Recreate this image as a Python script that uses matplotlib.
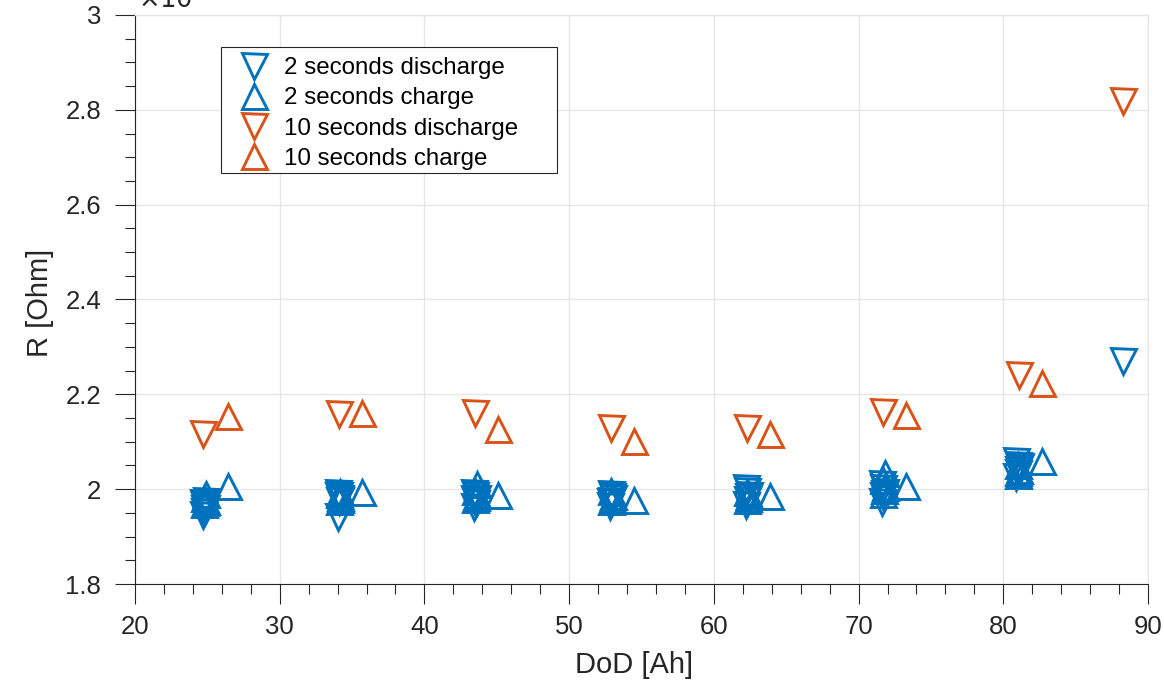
import matplotlib
matplotlib.use("Agg")
import matplotlib.pyplot as plt
from matplotlib.ticker import MultipleLocator, FuncFormatter
from matplotlib.patches import Rectangle

plt.rcParams['font.family'] = ['Liberation Sans', 'DejaVu Sans']

# ---- data (R in units of 1e-3 Ohm) ----
d2_x = [24.7, 24.8, 24.9, 24.8, 24.7, 24.9, 24.8, 24.75,
        34.0, 34.1, 34.2, 34.1, 34.0, 34.15, 34.05,
        43.4, 43.5, 43.6, 43.5, 43.4, 43.55, 43.45,
        52.8, 52.9, 53.0, 52.9, 52.85, 52.95,
        62.2, 62.3, 62.4, 62.3, 62.2, 62.35,
        71.6, 71.7, 71.8, 71.7, 71.6, 71.75,
        80.9, 81.0, 81.1, 81.0, 80.9, 81.05, 81.15,
        88.3]
d2_y = [1.945, 1.952, 1.960, 1.966, 1.970, 1.974, 1.958, 1.964,
        1.942, 1.975, 1.982, 1.988, 1.992, 1.978, 1.985,
        1.962, 1.975, 1.982, 1.988, 1.992, 1.970, 1.979,
        1.965, 1.975, 1.982, 1.990, 1.972, 1.986,
        1.966, 1.978, 1.988, 1.996, 2.002, 1.983,
        1.973, 1.985, 1.995, 2.003, 2.010, 1.990,
        2.026, 2.035, 2.045, 2.052, 2.059, 2.040, 2.048,
        2.270]

c2_x = [24.8, 24.9, 24.8, 24.9, 24.85, 26.4,
        34.1, 34.2, 34.1, 34.2, 34.15, 35.7,
        43.5, 43.6, 43.5, 43.6, 43.55, 45.1,
        52.9, 53.0, 52.9, 52.95, 54.5,
        62.3, 62.4, 62.3, 62.35, 63.9,
        71.7, 71.8, 71.7, 71.8, 71.75, 73.3,
        81.0, 81.1, 81.0, 81.05, 82.7]
c2_y = [1.968, 1.975, 1.982, 1.990, 1.972, 2.006,
        1.975, 1.983, 1.990, 1.994, 1.980, 1.994,
        1.980, 1.988, 1.996, 2.010, 1.984, 1.988,
        1.975, 1.985, 1.996, 1.980, 1.977,
        1.978, 1.988, 1.995, 1.982, 1.986,
        1.990, 2.005, 2.020, 2.034, 1.998, 2.007,
        2.030, 2.040, 2.050, 2.036, 2.059]

d10_x = [24.7, 34.1, 43.5, 52.9, 62.3, 71.7, 81.1, 88.3]
d10_y = [2.116, 2.158, 2.161, 2.129, 2.129, 2.163, 2.241, 2.819]

c10_x = [26.4, 35.7, 45.1, 54.5, 63.9, 73.3, 82.7]
c10_y = [2.154, 2.161, 2.127, 2.102, 2.116, 2.156, 2.224]

labels = ['2 seconds discharge', '2 seconds charge',
          '10 seconds discharge', '10 seconds charge']

BLUE = '#0072BD'
ORANGE = '#D95319'
AX = '#262626'
GRID = '#E6E6E6'

W, H = 1164, 683
fig = plt.figure(figsize=(W/100, H/100), dpi=100)
ax = fig.add_axes([135/W, 1 - 584/H, (1148-135)/W, (584-15)/H])

ms = 18
mew = 2.1
ax.plot(d2_x, d2_y, 'v', ms=ms, mfc='none', mec=BLUE, mew=mew, label=labels[0])
ax.plot(c2_x, c2_y, '^', ms=ms, mfc='none', mec=BLUE, mew=mew, label=labels[1])
ax.plot(d10_x, d10_y, 'v', ms=ms, mfc='none', mec=ORANGE, mew=mew, label=labels[2])
ax.plot(c10_x, c10_y, '^', ms=ms, mfc='none', mec=ORANGE, mew=mew, label=labels[3])

ax.set_xlim(20, 90)
ax.set_ylim(1.8, 3.0)
ax.xaxis.set_major_locator(MultipleLocator(10))
ax.xaxis.set_minor_locator(MultipleLocator(2))
ax.yaxis.set_major_locator(MultipleLocator(0.2))
ax.yaxis.set_minor_locator(MultipleLocator(0.05))
ax.yaxis.set_major_formatter(FuncFormatter(lambda v, p: f'{v:g}'))

ax.grid(True, which='major', color=GRID, linewidth=1.0)
ax.set_axisbelow(True)

for s in ['left', 'bottom']:
    ax.spines[s].set_color(AX)
    ax.spines[s].set_linewidth(0.8)
for s in ['top', 'right']:
    ax.spines[s].set_color(GRID)
    ax.spines[s].set_linewidth(1.0)

ax.tick_params(which='major', direction='out', length=14.4, width=0.8,
               color=AX, labelcolor=AX, labelsize=18.5, pad=8)
ax.tick_params(axis='y', which='major', pad=10)
ax.tick_params(which='minor', direction='out', length=7.2, width=0.8, color=AX)

ax.set_xlabel('DoD [Ah]', fontsize=21, color=AX, va='center')
ax.xaxis.set_label_coords((634-135)/1013, -(665-584)/569)
ax.set_ylabel('R [Ohm]', fontsize=21, color=AX, va='center')
ax.yaxis.set_label_coords(-(135-40)/1013, (584-303)/569)

ax.annotate(r'$\times10^{-3}$', xy=(0, 1), xycoords='axes fraction',
            xytext=(2, 5), textcoords='offset points',
            fontsize=18.5, color=AX, ha='left', va='baseline', annotation_clip=False)

# legend box (MATLAB style with extra right space)
box = Rectangle((221/W, 1 - 173/H), (557-221)/W, (173-47)/H,
                transform=fig.transFigure, fill=True, facecolor='white',
                edgecolor=AX, linewidth=0.8, zorder=4, clip_on=False)
ax.add_patch(box)

leg = ax.legend(loc='upper left', bbox_to_anchor=(221/W, 1 - 47/H),
                bbox_transform=fig.transFigure, borderaxespad=0,
                fontsize=17.4, frameon=False,
                handletextpad=0.32, labelspacing=0.34, borderpad=0.42,
                handlelength=1.85, labelcolor='black')
leg.set_zorder(5)

fig.savefig('out.png', dpi=100)
